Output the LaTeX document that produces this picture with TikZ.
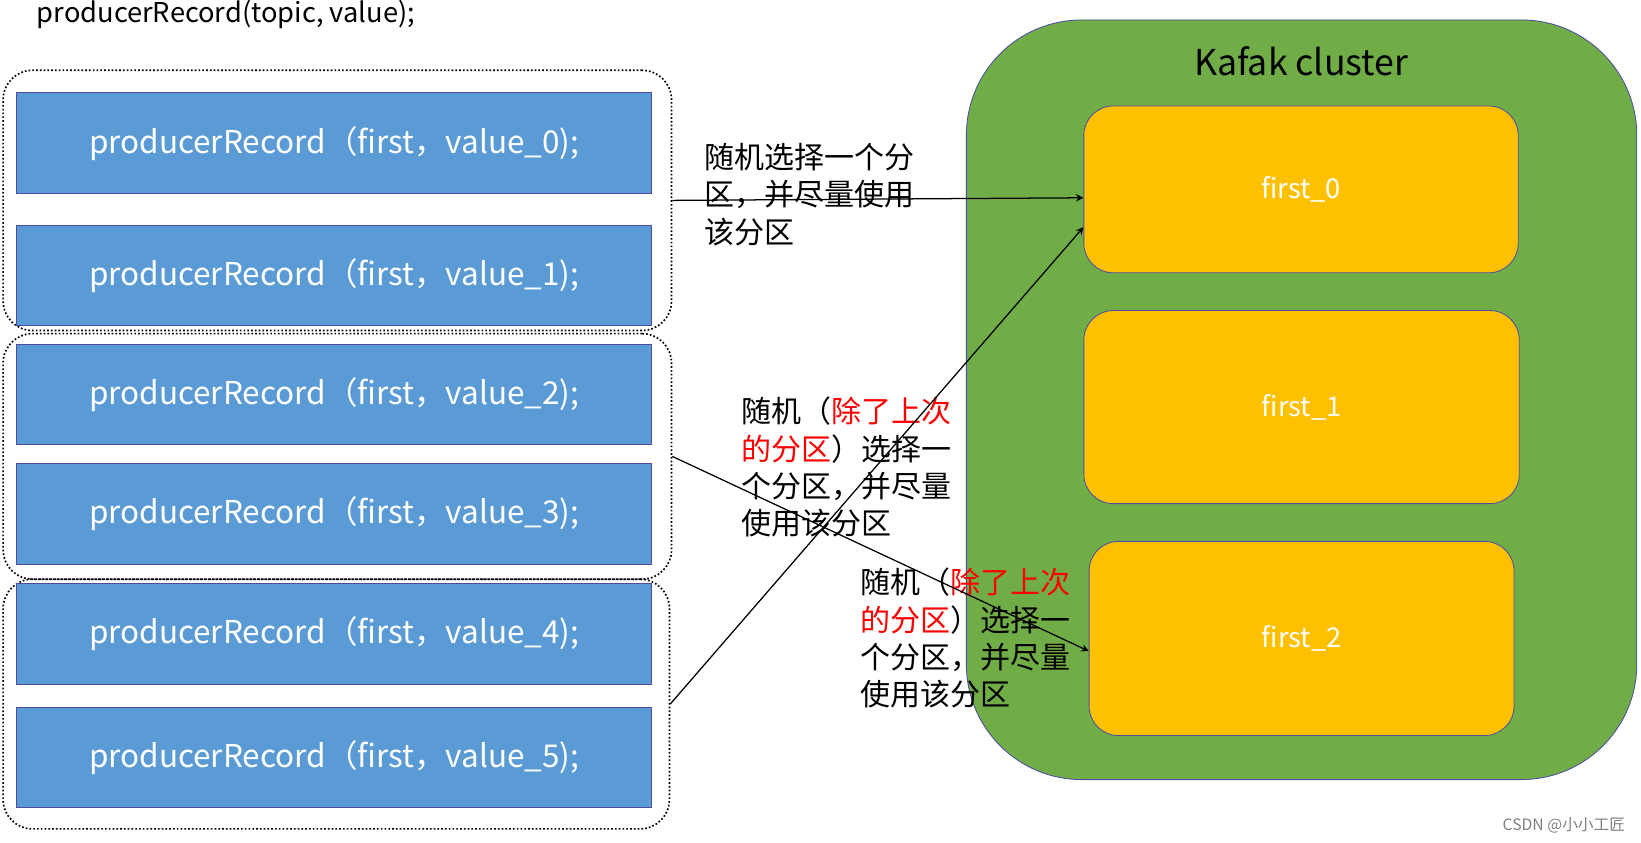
\documentclass[tikz,border=0pt]{standalone}
\usepackage{fontspec}
\setmainfont{Noto Sans CJK SC}
\begin{document}
\begin{tikzpicture}[x=0.5pt,y=-0.5pt,
 grp/.style={draw,densely dotted,rounded corners=14pt,thick},
 rec/.style={draw=blue!50!black!70,fill=recblue,text=white,font=\fontsize{15}{18}\selectfont},
 part/.style={draw=blue!50!black!70,fill=partor,rounded corners=14pt,text=white,font=\fontsize{13}{16}\selectfont},
 lab/.style={align=left,anchor=north west,font=\fontsize{14.3}{17.8}\selectfont,inner sep=0pt},
 arr/.style={-stealth,semithick}]
\definecolor{recblue}{HTML}{5B9BD5}
\definecolor{partor}{HTML}{FFC000}
\definecolor{grn}{HTML}{70AD47}
\useasboundingbox (0,0) rectangle (1564,803);
\node[anchor=west,font=\fontsize{13}{16}\selectfont] (top) at (28,14) {producerRecord(topic, value);};
\node[grp,minimum width=318.5pt,minimum height=124pt] (g1) at (321.5,191) {};
\node[grp,minimum width=318.5pt,minimum height=117pt] (g2) at (321.5,435) {};
\node[grp,minimum width=317.5pt,minimum height=119pt] (g3) at (320.5,671) {};
\foreach \i/\y in {0/136.5,1/262.5,2/376,3/490,4/604,5/722}{
 \node[rec,minimum width=302.5pt,minimum height=48pt] (r\i) at (318.5,\y) {producerRecord（first，value\_\i);};
}
\node[draw=blue!50!black!70,fill=grn,rounded corners=55pt,minimum width=319.5pt,minimum height=362pt] (cl) at (1240.5,381) {};
\node[font=\fontsize{17}{20}\selectfont] (ct) at (1240,58) {Kafak cluster};
\node[part,minimum width=207pt,minimum height=79.5pt] (p0) at (1240,180.5) {first\_0};
\node[part,minimum width=207.5pt,minimum height=92pt] (p1) at (1240.5,388) {first\_1};
\node[part,minimum width=202.5pt,minimum height=92.5pt] (p2) at (1240.5,608.5) {first\_2};
\node[lab] (t1) at (671,136) {随机选择一个分\\区，并尽量使用\\该分区};
\node[lab] (t2) at (706,378) {随机（\textcolor{red}{除了上次}\\\textcolor{red}{的分区}）选择一\\个分区，并尽量\\使用该分区};
\node[lab] (t3) at (820,541) {随机（\textcolor{red}{除了上次}\\\textcolor{red}{的分区}）选择一\\个分区，并尽量\\使用该分区};
\draw[arr] (g1.east) -- ([yshift=-4]p0.west);
\draw[arr] (g3.east) -- ([yshift=-18]p0.west);
\draw[arr] (g2.east) -- ([yshift=-6]p2.west);
\node[anchor=east,text=gray,font=\fontsize{7.5}{9}\selectfont] (wm) at (1556,787) {CSDN @小小工匠};
\end{tikzpicture}
\end{document}
